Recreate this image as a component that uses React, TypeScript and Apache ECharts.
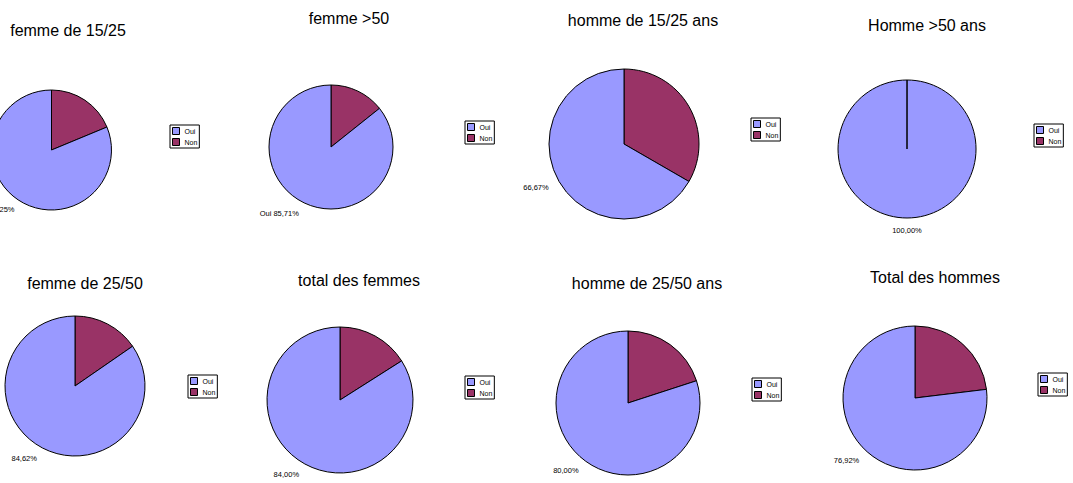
import React, { useEffect, useRef } from 'react';
import * as echarts from 'echarts';

const titles = [
  'femme de 15/25',
  'femme >50',
  'homme de 15/25 ans',
  'Homme >50 ans',
  'femme de 25/50',
  'total des femmes',
  'homme de 25/50 ans',
  'Total des hommes',
];
const categories = ['Oui', 'Non'];
const ouiValues = [81.25, 85.71, 66.67, 100, 84.62, 84.0, 80.0, 76.92];
const nonValues = [18.75, 14.29, 33.33, 0, 15.38, 16.0, 20.0, 23.08];
const labelWithName = [false, true, false, false, false, false, false, false];

const COLORS: Record<string, string> = { Oui: '#9999FF', Non: '#993366' };
const FONT = 'Liberation Sans, Arial, Helvetica, sans-serif';

// layout of each panel (pixels): pie centre/radius, title centre, legend box corner, label nudge
const panels = [
  { cx: 51.5, cy: 150, r: 60, tx: 68, ty: 30, lx: 170, ly: 125, ldx: 3 },
  { cx: 331, cy: 147, r: 62, tx: 349, ty: 18, lx: 465, ly: 121, ldx: 0 },
  { cx: 624, cy: 144, r: 75, tx: 643, ty: 20, lx: 751, ly: 118, ldx: 0 },
  { cx: 907, cy: 149, r: 69, tx: 927, ty: 25, lx: 1034, ly: 124, ldx: 0 },
  { cx: 75, cy: 386, r: 70, tx: 85, ty: 283, lx: 188, ly: 375, ldx: 0 },
  { cx: 340, cy: 400, r: 73, tx: 359, ty: 280, lx: 465, ly: 376, ldx: 0 },
  { cx: 628, cy: 403, r: 72, tx: 647, ty: 283, lx: 752, ly: 378, ldx: 0 },
  { cx: 915, cy: 398, r: 72, tx: 935, ty: 277, lx: 1038, ly: 373, ldx: 0 },
];

const fmt = (v: number) => v.toFixed(2).replace('.', ',') + '%';

export default function App() {
  const ref = useRef<HTMLDivElement>(null);
  useEffect(() => {
    if (!ref.current) return;
    const chart = echarts.init(ref.current, undefined, { renderer: 'svg' });

    const title = titles.map((t, i) => ({
      text: t,
      left: panels[i].tx,
      top: panels[i].ty,
      textAlign: 'center',
      textVerticalAlign: 'middle',
      padding: 0,
      textStyle: { fontSize: 16, fontWeight: 'normal', color: '#000', fontFamily: FONT },
    }));

    const legend = panels.map((p) => ({
      orient: 'vertical',
      left: p.lx,
      top: p.ly,
      data: categories,
      icon: 'rect',
      itemWidth: 7,
      itemHeight: 7,
      itemGap: 3,
      padding: [2, 2, 2, 2],
      borderColor: '#000',
      borderWidth: 1,
      backgroundColor: '#fff',
      selectedMode: false,
      itemStyle: { borderColor: '#000', borderWidth: 1 },
      textStyle: { fontSize: 7, color: '#000', fontFamily: FONT },
    }));

    const series = panels.map((p, i) => {
      const s: any = {
        type: 'pie',
        center: [p.cx, p.cy],
        radius: p.r,
        startAngle: 90,
        clockwise: true,
        avoidLabelOverlap: false,
        silent: true,
        itemStyle: { borderColor: '#000', borderWidth: 1 },
        label: {
          show: true,
          position: 'outside',
          fontSize: 7.5,
          color: '#000',
          fontFamily: FONT,
          width: 60,
          overflow: 'none',
          distanceToLabelLine: 0,
          formatter: (params: any) =>
            (labelWithName[i] ? params.name + ' ' : '') + fmt(params.value),
        },
        labelLine: { show: false, length: 12, length2: 0 },
        emphasis: { disabled: true },
        data: [
          {
            name: 'Non',
            value: nonValues[i],
            itemStyle: { color: COLORS.Non },
            label: { show: false },
          },
          {
            name: 'Oui',
            value: ouiValues[i],
            itemStyle: { color: COLORS.Oui },
          },
        ],
      };
      if (p.ldx) {
        s.labelLayout = { dx: p.ldx };
      }
      if (nonValues[i] === 0) {
        // keep the empty slice visible as a radial edge, as in the original
        s.minAngle = 0.05;
        s.labelLayout = { align: 'center' };
      }
      return s;
    });

    chart.setOption({
      animation: false,
      backgroundColor: '#fff',
      title,
      legend,
      series,
    });
    return () => chart.dispose();
  }, []);

  return (
    <div
      ref={ref}
      style={{ position: 'fixed', left: 0, top: 0, width: 1073, height: 483 }}
    />
  );
}
